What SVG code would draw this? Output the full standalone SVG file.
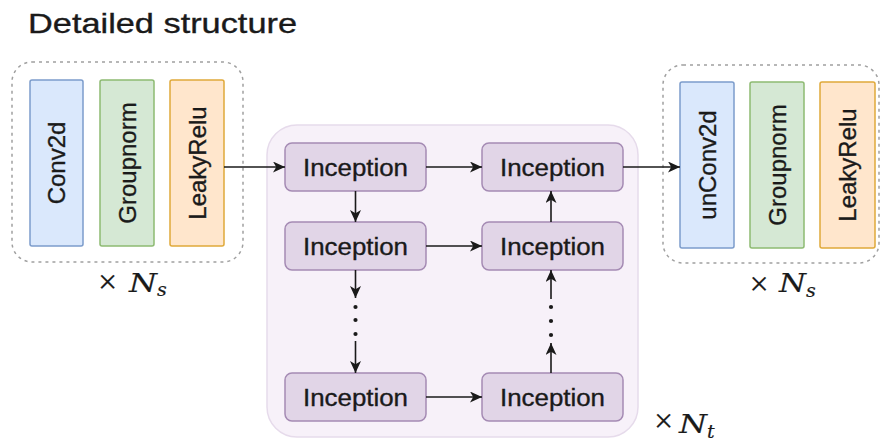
<svg xmlns="http://www.w3.org/2000/svg" width="881" height="442" viewBox="0 0 881 442">
  <defs>
    <marker id="arrow" viewBox="0 0 12 11" markerWidth="12" markerHeight="11" refX="12" refY="5.5" orient="auto" markerUnits="userSpaceOnUse">
      <path d="M0,0 L12,5.5 L0,11 L3.2,5.5 Z" fill="#1a1a1a"/>
    </marker>
    <style>
      text { font-family: "Liberation Sans", Arial, sans-serif; fill: #1a1a1a; stroke: #1a1a1a; stroke-width: 0.35; }
      .title { font-size: 28px; }
      .group { fill: none; stroke: #a0a0a0; stroke-width: 1.5; stroke-dasharray: 3 4; }
      .layer-label { font-size: 24px; text-anchor: middle; }
      .conv { fill: #dae8fc; stroke: #7c9ccb; stroke-width: 1.5; }
      .norm { fill: #d5e8d4; stroke: #8dba72; stroke-width: 1.5; }
      .act { fill: #ffe6cc; stroke: #e0a93a; stroke-width: 1.5; }
      .stack { fill: #f7f1f9; stroke: #e6dbeb; stroke-width: 1.5; }
      .inc { fill: #e1d5e7; stroke: #a58bb4; stroke-width: 1.5; }
      .inc-label { font-size: 23.5px; text-anchor: middle; }
      .edge { stroke: #1a1a1a; stroke-width: 1.6; fill: none; marker-end: url(#arrow); }
      .dot { fill: #1a1a1a; }
      .times { font-family: "Liberation Serif", "Times New Roman", serif; font-size: 34px; text-anchor: middle; stroke-width: 0.2; }
      .mi { font-family: "DejaVu Serif", "Liberation Serif", serif; font-style: italic; stroke-width: 0.2; }
    </style>
  </defs>

  <text class="title" x="28" y="33" textLength="269" lengthAdjust="spacingAndGlyphs">Detailed structure</text>

  <!-- encoder block: conv / norm / activation, repeated N_s times -->
  <g id="encoder-block">
    <rect class="group" x="12" y="62" width="231" height="200" rx="20"/>
    <g id="enc-conv">
      <rect class="conv" x="30" y="80" width="53" height="166" rx="2"/>
      <text class="layer-label" transform="translate(56.5,163) rotate(-90)" y="8.5">Conv2d</text>
    </g>
    <g id="enc-norm">
      <rect class="norm" x="100" y="80" width="54" height="166" rx="2"/>
      <text class="layer-label" transform="translate(127,163) rotate(-90)" y="8.5">Groupnorm</text>
    </g>
    <g id="enc-act">
      <rect class="act" x="170" y="80" width="54" height="166" rx="2"/>
      <text class="layer-label" transform="translate(197,163) rotate(-90)" y="8.5">LeakyRelu</text>
    </g>
    <text class="times" x="107.5" y="293">×</text>
    <text class="mi" x="129" y="292" font-size="26" textLength="28" lengthAdjust="spacingAndGlyphs">N</text>
    <text class="mi" x="157" y="296" font-size="19">s</text>
  </g>

  <!-- translator: grid of inception modules, repeated N_t times -->
  <g id="translator">
    <rect class="stack" x="267" y="125" width="371" height="312" rx="30"/>
    <text class="times" x="663.5" y="432">×</text>
    <text class="mi" x="679" y="433" font-size="26" textLength="28" lengthAdjust="spacingAndGlyphs">N</text>
    <text class="mi" x="707" y="438" font-size="19">t</text>
  </g>

  <g id="inc-l1">
    <rect class="inc" x="285" y="143" width="141" height="48" rx="7"/>
    <text class="inc-label" x="355.5" y="176" textLength="105" lengthAdjust="spacingAndGlyphs">Inception</text>
  </g>
  <g id="inc-r1">
    <rect class="inc" x="482" y="143" width="141" height="48" rx="7"/>
    <text class="inc-label" x="552.5" y="176" textLength="105" lengthAdjust="spacingAndGlyphs">Inception</text>
  </g>
  <g id="inc-l2">
    <rect class="inc" x="285" y="222" width="141" height="48" rx="7"/>
    <text class="inc-label" x="355.5" y="255" textLength="105" lengthAdjust="spacingAndGlyphs">Inception</text>
  </g>
  <g id="inc-r2">
    <rect class="inc" x="482" y="222" width="141" height="48" rx="7"/>
    <text class="inc-label" x="552.5" y="255" textLength="105" lengthAdjust="spacingAndGlyphs">Inception</text>
  </g>
  <g id="inc-l3">
    <rect class="inc" x="285" y="373" width="141" height="48" rx="7"/>
    <text class="inc-label" x="355.5" y="406" textLength="105" lengthAdjust="spacingAndGlyphs">Inception</text>
  </g>
  <g id="inc-r3">
    <rect class="inc" x="482" y="373" width="141" height="48" rx="7"/>
    <text class="inc-label" x="552.5" y="406" textLength="105" lengthAdjust="spacingAndGlyphs">Inception</text>
  </g>

  <!-- decoder block: transposed conv / norm / activation, repeated N_s times -->
  <g id="decoder-block">
    <rect class="group" x="663" y="65" width="216" height="198" rx="20"/>
    <g id="dec-conv">
      <rect class="conv" x="680" y="82" width="54" height="166" rx="2"/>
      <text class="layer-label" transform="translate(707,165) rotate(-90)" y="8.5">unConv2d</text>
    </g>
    <g id="dec-norm">
      <rect class="norm" x="750" y="82" width="54" height="166" rx="2"/>
      <text class="layer-label" transform="translate(777,165) rotate(-90)" y="8.5">Groupnorm</text>
    </g>
    <g id="dec-act">
      <rect class="act" x="820" y="82" width="55" height="166" rx="2"/>
      <text class="layer-label" transform="translate(847.5,165) rotate(-90)" y="8.5">LeakyRelu</text>
    </g>
    <text class="times" x="759" y="295">×</text>
    <text class="mi" x="779" y="292" font-size="26" textLength="27" lengthAdjust="spacingAndGlyphs">N</text>
    <text class="mi" x="806" y="297" font-size="19">s</text>
  </g>

  <g id="connectors">
    <line class="edge" x1="224" y1="167" x2="285" y2="167"/>
    <line class="edge" x1="623" y1="167" x2="680" y2="167"/>

    <line class="edge" x1="426" y1="167" x2="482" y2="167"/>
    <line class="edge" x1="426" y1="246" x2="482" y2="246"/>
    <line class="edge" x1="426" y1="397" x2="482" y2="397"/>

    <line class="edge" x1="355.5" y1="191" x2="355.5" y2="222"/>
    <line class="edge" x1="551" y1="222" x2="551" y2="191"/>

    <!-- left column continues down through the elided modules -->
    <line class="edge" x1="355.5" y1="270" x2="355.5" y2="298"/>
    <circle class="dot" cx="355.5" cy="307" r="2.1"/>
    <circle class="dot" cx="355.5" cy="320" r="2.1"/>
    <circle class="dot" cx="355.5" cy="334" r="2.1"/>
    <line class="edge" x1="355.5" y1="341" x2="355.5" y2="373"/>

    <!-- right column climbs back up -->
    <line class="edge" x1="551" y1="373" x2="551" y2="343"/>
    <circle class="dot" cx="551" cy="335" r="2.1"/>
    <circle class="dot" cx="551" cy="321" r="2.1"/>
    <circle class="dot" cx="551" cy="307" r="2.1"/>
    <line class="edge" x1="551" y1="299" x2="551" y2="270"/>
  </g>
</svg>
